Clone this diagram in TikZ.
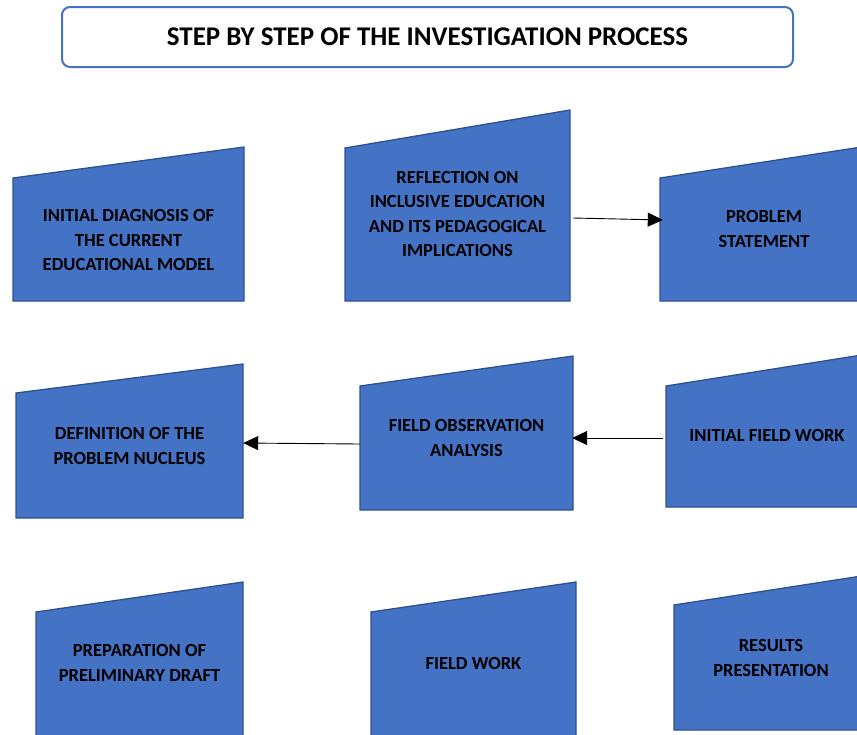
\documentclass[tikz,border=0pt]{standalone}
\usepackage{fontspec}
\setmainfont{Carlito}
\usetikzlibrary{arrows.meta}
\definecolor{stepblue}{RGB}{68,114,196}
\definecolor{stepedge}{RGB}{47,82,143}

\begin{document}
\begin{tikzpicture}[
  x=1pt, y=-1pt,
  font=\fontsize{18.5}{24.5}\selectfont\bfseries,
  card/.style={draw=stepedge, fill=stepblue, line width=1.3pt},
  steptext/.style={align=center, inner sep=0pt},
  edge/.style={-{Triangle[length=15pt,width=14pt]}, line width=0.9pt}
]
\useasboundingbox (0,0) rectangle (857,734);
\clip (0,0) rectangle (857,734);
\node[draw=stepblue, line width=2pt, rounded corners=8pt, minimum width=731pt, minimum height=60pt,
  font=\fontsize{27}{30}\selectfont\bfseries] (title) at (427.5,37) {STEP BY STEP OF THE INVESTIGATION PROCESS};
% first row
\draw[card] (13,178) -- (244,147) -- (244,301) -- (13,301) -- cycle;
\draw[card] (345,148) -- (570,110) -- (570,301) -- (345,301) -- cycle;
\draw[card] (660,178) -- (868,146) -- (868,301) -- (660,301) -- cycle;
\node[steptext, minimum width=231pt] (diag) at (128.5,240) {INITIAL DIAGNOSIS OF\\THE CURRENT\\EDUCATIONAL MODEL};
\node[steptext, minimum width=225pt] (reflect) at (457.5,214) {REFLECTION ON\\INCLUSIVE EDUCATION\\AND ITS PEDAGOGICAL\\IMPLICATIONS};
\node[steptext, minimum width=208pt] (problem) at (764,229) {PROBLEM\\STATEMENT};
% second row
\draw[card] (16,393) -- (243,364) -- (243,518) -- (16,518) -- cycle;
\draw[card] (360,386) -- (573,356) -- (573,510) -- (360,510) -- cycle;
\draw[card] (666,386) -- (868,354) -- (868,507) -- (666,507) -- cycle;
\node[steptext, minimum width=227pt] (nucleus) at (129.5,446) {DEFINITION OF THE\\PROBLEM NUCLEUS};
\node[steptext, minimum width=213pt] (analysis) at (466.5,438) {FIELD OBSERVATION\\ANALYSIS};
\node[steptext, minimum width=202pt] (initwork) at (767,435) {INITIAL FIELD WORK};
% third row
\draw[card] (36,612) -- (243,582) -- (243,740) -- (36,740) -- cycle;
\draw[card] (371,612) -- (576,582) -- (576,740) -- (371,740) -- cycle;
\draw[card] (674,605) -- (868,575) -- (868,730) -- (674,730) -- cycle;
\node[steptext, minimum width=207pt] (draft) at (139.5,663) {PREPARATION OF\\PRELIMINARY DRAFT};
\node[steptext, minimum width=205pt] (fieldwork) at (473.5,663) {FIELD WORK};
\node[steptext, minimum width=194pt] (results) at (771,658) {RESULTS\\PRESENTATION};
\draw[edge] ([shift={(3,4)}]reflect.east) -- ([shift={(3,-9)}]problem.west);
\draw[edge] ([shift={(-3,3)}]initwork.west) -- ([xshift=-1]analysis.east);
\draw[edge] ([shift={(0,6)}]analysis.west) -- ([shift={(0,-3)}]nucleus.east);
\end{tikzpicture}
\end{document}
